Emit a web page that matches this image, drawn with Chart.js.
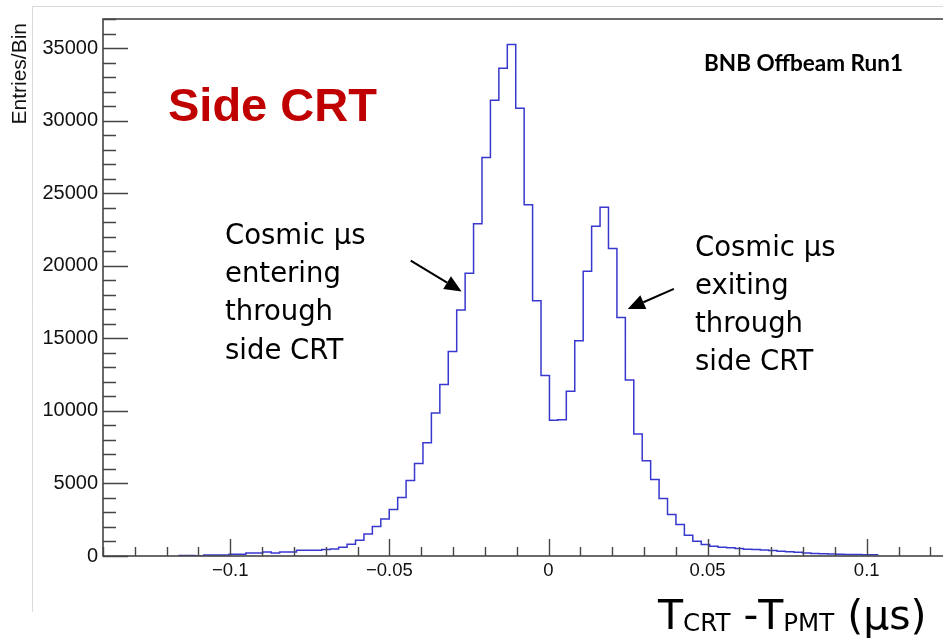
<!DOCTYPE html>
<html>
<head>
<meta charset="utf-8">
<title>Side CRT timing</title>
<script src="https://cdn.jsdelivr.net/npm/chart.js@4.4.1/dist/chart.umd.min.js"></script>
<style>
  html, body { margin: 0; padding: 0; background: #fff; overflow: hidden; }
  #wrap { width: 943px; height: 640px; overflow: hidden; position: relative; }
  canvas { display: block; }
</style>
</head>
<body>
<div id="wrap"><canvas id="crt" width="994" height="640"></canvas></div>
<script>
// binning of T_CRT - T_PMT (us)
const binWidth = 0.00265;
const firstEdge = -0.1163; // low edge of the first filled bin

// entries per bin, left to right
const counts = [
  40, 40, 0, 69, 69, 69, 117, 117, 207, 207,
  276, 207, 276, 276, 394, 394, 394, 440, 483, 601,
  808, 1084, 1519, 2030, 2555, 3204, 4033, 5207, 6381, 7804,
  9855, 11809, 14088, 16947, 19475, 22886, 27465, 31400, 33610, 35248,
  30850, 24208, 17590, 12431,
  9351, 9392, 11354, 14827, 19613, 22720, 24033, 21181, 16436, 12134,
  8405, 6561, 5276, 3964, 2859, 2168, 1430, 1015, 787, 670,
  600, 560, 520, 470, 440, 410, 380, 330, 290, 250,
  210, 180, 160, 140, 120, 110, 100, 90, 80
];

// axis ranges and labelled ticks
const xRange = [-0.14, 0.14];
const yRange = [0, 37000];
const xLabels = [-0.1, -0.05, 0, 0.05, 0.1];
const yLabels = [0, 5000, 10000, 15000, 20000, 25000, 30000, 35000];
const xMinor = 0.01, yMinor = 1000;

// histogram outline: one point per lower bin edge, plus the closing edge
const points = counts.map((c, i) => ({ x: firstEdge + i * binWidth, y: c }));
points.push({ x: firstEdge + counts.length * binWidth, y: counts[counts.length - 1] });

// arrows pointing at the two populations (data coordinates)
const arrows = [
  { from: [-0.0433, 20350], to: [-0.0273, 18230] },
  { from: [0.0394, 18400], to: [0.0249, 17020] }
];

function fmtX(v) {
  v = Math.round(v * 100) / 100;
  if (v === 0) return '0';
  return (v < 0 ? '\u2212' : '') + Math.abs(v);
}

// frame and inward ticks, ROOT style
const frame = {
  id: 'frame',
  afterDatasetsDraw(chart) {
    const { ctx, chartArea: a, scales: { x, y } } = chart;
    ctx.save();
    ctx.strokeStyle = '#454545';
    ctx.lineWidth = 1.6;
    ctx.strokeRect(a.left, a.top, a.right - a.left, a.bottom - a.top);
    ctx.lineWidth = 1.4;
    ctx.beginPath();
    for (let v = yRange[0]; v <= yRange[1]; v += yMinor) {
      const py = Math.round(y.getPixelForValue(v)) + 0.5;
      const len = yLabels.includes(v) ? 25 : 13;
      ctx.moveTo(a.left, py);
      ctx.lineTo(a.left + len, py);
    }
    for (let i = Math.ceil(xRange[0] / xMinor); i * xMinor <= xRange[1] + 1e-9; i++) {
      const px = Math.round(x.getPixelForValue(i * xMinor)) + 0.5;
      const len = i % 5 === 0 ? 17 : 9;
      ctx.moveTo(px, a.bottom);
      ctx.lineTo(px, a.bottom - len);
    }
    ctx.stroke();
    ctx.restore();
  }
};

// titles, labels and arrows
const notes = {
  id: 'notes',
  beforeDraw(chart) {
    const ctx = chart.ctx;
    ctx.save();
    ctx.strokeStyle = '#dadada';
    ctx.lineWidth = 1;
    ctx.beginPath();
    ctx.moveTo(32.5, 612);
    ctx.lineTo(32.5, 6.5);
    ctx.lineTo(chart.width, 6.5);
    ctx.stroke();
    ctx.restore();
  },
  afterDraw(chart) {
    const { ctx, scales: { x, y } } = chart;
    ctx.save();

    // y axis title, right-aligned to the top of the axis
    ctx.save();
    ctx.translate(26, 23);
    ctx.rotate(-Math.PI / 2);
    ctx.font = '21px "Liberation Sans", Arial, sans-serif';
    ctx.fillStyle = '#111';
    ctx.textAlign = 'right';
    ctx.textBaseline = 'alphabetic';
    ctx.fillText('Entries/Bin', 0, 0);
    ctx.restore();

    ctx.textAlign = 'left';
    ctx.textBaseline = 'alphabetic';

    ctx.fillStyle = '#c00000';
    ctx.font = 'bold 47px "Liberation Sans", Arial, sans-serif';
    ctx.fillText('Side CRT', 168, 120.5);

    ctx.fillStyle = '#000';
    ctx.font = 'bold 22.5px Lato, "Open Sans", sans-serif';
    ctx.fillText('BNB Offbeam Run1', 704, 71);

    ctx.font = '27.5px "DejaVu Sans", sans-serif';
    ['Cosmic \u03bcs', 'entering', 'through', 'side CRT'].forEach((t, i) => {
      ctx.fillText(t, 225, 243.5 + i * 38.4);
    });
    ['Cosmic \u03bcs', 'exiting', 'through', 'side CRT'].forEach((t, i) => {
      ctx.fillText(t, 695, 255.5 + i * 38.3);
    });

    // arrows
    ctx.strokeStyle = '#000';
    ctx.fillStyle = '#000';
    ctx.lineWidth = 2;
    arrows.forEach(ar => {
      const x0 = x.getPixelForValue(ar.from[0]), y0 = y.getPixelForValue(ar.from[1]);
      const x1 = x.getPixelForValue(ar.to[0]), y1 = y.getPixelForValue(ar.to[1]);
      const ang = Math.atan2(y1 - y0, x1 - x0);
      const hl = 17, hw = 7.5;
      const bx = x1 - hl * Math.cos(ang), by = y1 - hl * Math.sin(ang);
      ctx.beginPath();
      ctx.moveTo(x0, y0);
      ctx.lineTo(bx, by);
      ctx.stroke();
      ctx.beginPath();
      ctx.moveTo(x1, y1);
      ctx.lineTo(bx + hw * Math.sin(ang), by - hw * Math.cos(ang));
      ctx.lineTo(bx - hw * Math.sin(ang), by + hw * Math.cos(ang));
      ctx.closePath();
      ctx.fill();
    });

    // x axis title with subscripts
    const big = 41, small = 24.5, base = 628.5;
    const parts = [
      ['T', big, 0], ['CRT', small, 2.5], [' -', big, 0], ['T', big, 0],
      ['PMT', small, 2.5], [' (\u03bcs)', big, 0]
    ];
    let px = 658;
    parts.forEach(([t, s, dy]) => {
      ctx.font = s + 'px "DejaVu Sans", sans-serif';
      ctx.fillText(t, px, base + dy);
      px += ctx.measureText(t).width;
    });

    ctx.restore();
  }
};

new Chart(document.getElementById('crt'), {
  type: 'line',
  data: {
    datasets: [{
      data: points,
      stepped: 'before',
      borderColor: '#3838cf',
      borderWidth: 1.5,
      pointRadius: 0,
      fill: false
    }]
  },
  options: {
    responsive: false,
    animation: false,
    devicePixelRatio: 1,
    layout: { padding: { top: 19, left: 0, right: 0, bottom: 0 } },
    plugins: { legend: { display: false }, tooltip: { enabled: false } },
    scales: {
      x: {
        type: 'linear',
        min: xRange[0],
        max: xRange[1],
        afterBuildTicks(s) { s.ticks = xLabels.map(v => ({ value: v })); },
        afterFit(s) { s.height = 84; },
        grid: { display: false, drawTicks: false },
        border: { display: false },
        ticks: {
          autoSkip: false,
          maxRotation: 0,
          padding: 4,
          color: '#111',
          font: { family: '"Liberation Sans", Arial, sans-serif', size: 18.5 },
          callback: v => fmtX(v)
        }
      },
      y: {
        min: yRange[0],
        max: yRange[1],
        afterBuildTicks(s) { s.ticks = yLabels.map(v => ({ value: v })); },
        afterFit(s) { s.width = 103; },
        grid: { display: false, drawTicks: false },
        border: { display: false },
        ticks: {
          autoSkip: false,
          padding: 5,
          color: '#111',
          font: { family: '"Liberation Sans", Arial, sans-serif', size: 20 },
          callback: v => String(v)
        }
      }
    }
  },
  plugins: [frame, notes]
});
</script>
</body>
</html>
